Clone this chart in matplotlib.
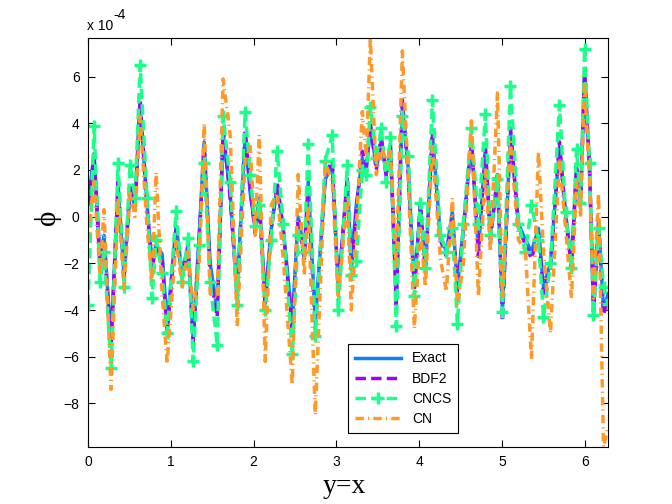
import numpy as np
import matplotlib
matplotlib.use('Agg')
import matplotlib.pyplot as plt

plt.rcParams['font.family'] = ['Liberation Sans', 'DejaVu Sans']

# x positions (y=x) and phi values in units of 1e-4
x = [0.000, 0.073, 0.145, 0.193, 0.278, 0.363, 0.435, 0.508, 0.568, 0.629,
     0.713, 0.774, 0.822, 0.895, 0.955, 1.064, 1.137, 1.209, 1.270, 1.342,
     1.403, 1.475, 1.560, 1.632, 1.717, 1.802, 1.898, 1.959, 2.019, 2.068,
     2.140, 2.213, 2.285, 2.358, 2.467, 2.539, 2.612, 2.660, 2.745, 2.866,
     2.950, 3.023, 3.132, 3.180, 3.241, 3.313, 3.362, 3.410, 3.482, 3.543,
     3.603, 3.652, 3.724, 3.797, 3.869, 3.942, 4.015, 4.075, 4.160, 4.256,
     4.329, 4.401, 4.462, 4.534, 4.631, 4.716, 4.800, 4.861, 4.946, 5.006,
     5.103, 5.200, 5.284, 5.357, 5.441, 5.502, 5.586, 5.695, 5.768, 5.840,
     5.901, 5.949, 5.998, 6.058, 6.106, 6.167, 6.227, 6.283]

exact = [0.5, 2.7, -1.8, -0.8, -5.3, 1.3, -2.5, 1.2, 0.4, 4.8,
         0.5, -2.0, -1.2, -1.6, -4.6, -0.4, -2.4, -1.2, -5.3, -0.8,
         3.2, -2.0, -4.0, 3.5, 1.0, -3.2, 3.5, 1.0, -0.5, 0.8,
         -3.5, -0.5, 1.3, -0.5, -4.5, 0.0, -1.5, 1.5, -4.5, 1.6,
         2.2, -3.0, 1.5, -2.0, 0.5, 2.5, 2.0, 3.8, 2.2, 3.3,
         1.8, 3.0, -3.5, 4.8, 2.0, -3.0, 0.5, -2.2, 3.5, -0.8,
         -1.5, 0.2, -3.0, -0.5, 3.2, -1.5, 2.9, -0.8, 1.6, -4.0,
         3.6, -0.3, -1.0, -1.5, -0.5, -3.0, -2.0, 3.0, 0.2, -2.0,
         2.0, 0.6, 6.0, 2.0, -3.9, -0.2, -4.0, -3.3]

bdf2 = [0.5, 2.5, -2.2, -1.0, -5.6, 1.5, -2.7, 1.4, 0.5, 5.0,
        0.3, -2.2, -1.3, -1.8, -5.0, -0.6, -2.6, -1.3, -5.4, -1.0,
        3.0, -2.5, -4.3, 3.8, 0.8, -3.5, 3.7, 1.2, -0.7, 0.6,
        -3.8, -0.6, 1.5, -0.6, -4.8, -0.2, -1.8, 1.2, -4.8, 1.8,
        2.4, -3.2, 1.7, -2.3, 0.3, 2.8, 2.2, 4.0, 2.0, 3.4,
        1.7, 3.2, -3.8, 5.0, 1.8, -3.2, 0.6, -2.4, 3.7, -1.0,
        -1.7, 0.0, -3.2, -0.6, 3.4, -1.7, 3.0, -1.0, 1.8, -4.5,
        3.8, -0.5, -1.2, -1.8, -0.7, -3.3, -2.2, 3.2, 0.0, -2.2,
        2.2, 0.5, 6.2, 2.2, -4.1, -0.3, -4.2, -3.5]

cncs = [-3.8, 3.9, -2.8, -1.5, -6.5, 2.3, -3.0, 2.2, 0.8, 6.5,
        0.8, -3.5, -1.0, -2.4, -5.0, 0.25, -2.8, -0.9, -6.2, -1.2,
        2.3, -2.8, -5.5, 4.3, 1.5, -3.8, 4.5, 1.8, -0.4, 0.5,
        -4.0, -1.0, 2.8, -0.3, -5.9, -0.8, -1.5, 3.1, -5.1, 2.4,
        3.5, -4.0, 2.2, -2.5, -1.9, 2.0, 1.8, 4.7, 2.5, 3.8,
        1.5, 3.4, -4.7, 4.3, 2.6, -3.4, 0.6, -2.2, 5.0, -0.8,
        -1.5, -0.5, -4.6, -0.3, 3.8, -0.3, 4.4, -0.8, 1.6, -4.1,
        5.6, -0.3, -1.5, 0.5, -1.0, -4.3, -2.0, 4.8, 0.2, -2.2,
        2.9, 0.6, 7.2, 2.3, -4.2, -0.5, -3.0, -3.75]

cn = [-1.0, 1.5, -2.5, 0.3, -7.4, 0.8, -3.1, 1.0, 0.0, 4.3,
      -0.5, -2.8, 1.9, -3.3, -6.3, -1.0, -3.0, -1.5, -4.0, -2.0,
      4.0, -3.3, -3.5, 5.9, 3.5, -4.7, 2.5, 3.0, -0.8, 3.5,
      -6.2, 0.5, 1.0, -1.8, -7.2, 1.8, -2.5, 0.5, -8.5, 2.3,
      1.5, -3.4, 0.8, -4.0, -0.5, 4.5, 2.5, 7.66, 1.8, 3.0,
      2.3, 2.8, -2.2, 7.1, 1.5, -4.8, -0.5, -3.0, 3.0, -1.8,
      -3.2, 0.8, -3.8, -2.0, 4.1, -3.4, 2.0, -1.5, 5.3, -3.5,
      3.2, -1.0, -1.5, -6.1, 2.8, -1.5, -5.0, 2.5, -0.5, -3.5,
      1.5, 0.0, 5.8, 1.5, -3.5, 1.0, -9.87, -9.0]

yticks = [-8, -6, -4, -2, 0, 2, 4, 6]

fig = plt.figure(figsize=(6.72, 5.04), dpi=100)
ax = fig.add_axes([0.131, 0.113, 0.774, 0.812])

lw = 2.5
ax.plot(x, exact, color='#0a80ff', lw=lw, label='Exact')
ax.plot(x, bdf2, color='#9c00ff', lw=lw, dashes=(3.0, 1.5), label='BDF2')
ax.plot(x, cncs, color='#1cff8a', lw=lw, dashes=(3.0, 1.5), marker='+',
        markersize=8, markeredgewidth=2.5, label='CNCS')
ax.plot(x, cn, color='#ff9a28', lw=lw, dashes=(2.4, 1.2, 0.35, 1.2), label='CN')

ax.set_xlim(0, 2 * np.pi)
ax.set_ylim(-9.87, 7.66)
ax.set_xticks(range(7))
ax.set_yticks(yticks)
ax.tick_params(direction='in', top=True, right=True, length=5, width=0.8,
               labelsize=10, pad=6)
for s in ax.spines.values():
    s.set_linewidth(0.8)

fig.text(0.1295, 0.9405, 'x 10', fontsize=10, va='baseline', ha='left')
fig.text(0.168, 0.962, '-4', fontsize=10, va='baseline', ha='left')

fig.text(0.0714, 0.5694, '\u03d5', rotation=90, fontsize=21, ha='center', va='center',
         family=['Liberation Serif', 'DejaVu Serif'])
fig.text(0.513, 0.034, 'y=x', fontsize=20, ha='center', va='center',
         family=['Liberation Serif', 'DejaVu Serif'])

leg = ax.legend(loc='lower left', bbox_to_anchor=(0.5, 0.034), borderaxespad=0,
                fontsize=10, handlelength=3.3, fancybox=False, framealpha=1,
                edgecolor='black', labelspacing=0.45, borderpad=0.5)
leg.get_frame().set_linewidth(0.8)

fig.savefig('out.png', dpi=100)
